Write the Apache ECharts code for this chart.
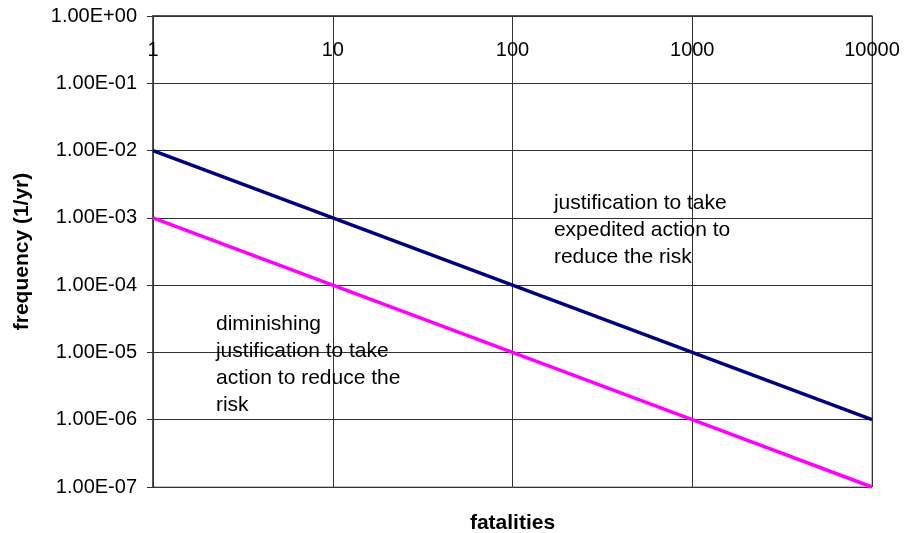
<html lang="en">
<head>
	<meta charset="utf-8">
	<title>frequency vs fatalities</title>
	<script src="https://cdn.jsdelivr.net/npm/echarts@6/dist/echarts.min.js"></script>
	<style>
		html, body { margin: 0; padding: 0; background: #fff; }
		#chart { width: 905px; height: 533px; }
	</style>
</head>
<body>
	<div id="chart"></div>
	<script>
		// data
		var fatalities = [1, 10, 100, 1000, 10000];
		var upperLimit = [1e-2, 1e-3, 1e-4, 1e-5, 1e-6];   // navy line
		var lowerLimit = [1e-3, 1e-4, 1e-5, 1e-6, 1e-7];   // magenta line
		var upperText = ['justification to take', 'expedited action to', 'reduce the risk'];
		var lowerText = ['diminishing', 'justification to take', 'action to reduce the', 'risk'];

		function pad2(n) { return (n < 10 ? '0' : '') + n; }
		function sciLabel(v) {
			var e = Math.round(Math.log(v) / Math.LN10);
			return '1.00E' + (e < 0 ? '-' : '+') + pad2(Math.abs(e));
		}

		var font = 'Liberation Sans, Arial, sans-serif';
		var chart = echarts.init(document.getElementById('chart'), null, { renderer: 'canvas' });

		chart.setOption({
			animation: false,
			grid: { left: 153, right: 33, top: 16, bottom: 46, show: true, borderColor: '#808080', borderWidth: 1,
				containLabel: false, outerBoundsMode: 'none' },
			xAxis: {
				type: 'log', logBase: 10, min: 1, max: 10000, position: 'top',
				axisLine: { show: true, lineStyle: { color: '#333', width: 1.5 } },
				axisTick: { show: false },
				axisLabel: { inside: true, margin: 24, color: '#000', fontSize: 20, fontFamily: font, formatter: function (v) { return String(Math.round(v)); } },
				splitLine: { show: true, lineStyle: { color: '#333', width: 1 } },
				minorTick: { show: false }
			},
			yAxis: {
				type: 'log', logBase: 10, min: 1e-7, max: 1,
				name: 'frequency (1/yr)', nameLocation: 'middle', nameGap: 120,
				nameTextStyle: { color: '#000', fontSize: 21, fontWeight: 'bold', fontFamily: font },
				axisLine: { show: true, lineStyle: { color: '#333', width: 1.5 } },
				axisTick: { show: true, length: 6, lineStyle: { color: '#333' } },
				axisLabel: { margin: 16, color: '#000', fontSize: 20, fontFamily: font, formatter: sciLabel },
				splitLine: { show: true, lineStyle: { color: '#333', width: 1 } }
			},
			series: [
				{ type: 'line', data: fatalities.map(function (f, i) { return [f, upperLimit[i]]; }),
					symbol: 'none', lineStyle: { color: '#000080', width: 3.5 }, z: 3 },
				{ type: 'line', data: fatalities.map(function (f, i) { return [f, lowerLimit[i]]; }),
					symbol: 'none', lineStyle: { color: '#FF00FF', width: 3.5 }, z: 3 }
			]
		});

		// annotations anchored in data coordinates
		var pUp = chart.convertToPixel({ gridIndex: 0 }, [170, 2.6e-3]);
		var pLow = chart.convertToPixel({ gridIndex: 0 }, [2.24, 4.1e-5]);
		var pTitle = chart.convertToPixel({ gridIndex: 0 }, [100, 1e-7]);
		chart.setOption({
			graphic: [
				{ type: 'text', left: pUp[0], top: pUp[1],
					style: { text: upperText.join('\n'), font: '21px ' + font, fill: '#000', lineHeight: 27 } },
				{ type: 'text', left: pLow[0], top: pLow[1],
					style: { text: lowerText.join('\n'), font: '21px ' + font, fill: '#000', lineHeight: 27 } },
				{ type: 'text', x: pTitle[0], y: 523,
					style: { text: 'fatalities', font: 'bold 21px ' + font, fill: '#000', align: 'center', verticalAlign: 'middle' } }
			]
		});
	</script>
</body>
</html>
